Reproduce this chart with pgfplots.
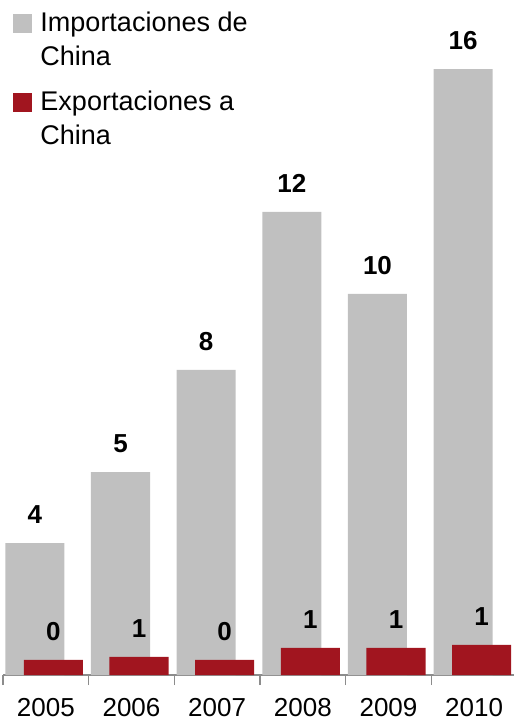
\documentclass[border=0pt]{standalone}
\usepackage{pgfplots}
\pgfplotsset{compat=1.18}
\usepackage{pgfplotstable}
\usepackage{fontspec}
\setmainfont{Liberation Sans}

\definecolor{impgray}{RGB}{192,192,192}
\definecolor{expred}{RGB}{161,21,31}
\definecolor{axgray}{RGB}{140,140,140}

% values in billions, labels as printed on the chart
\pgfplotstableread{
x year imp implbl exp explbl
0 2005 3.50 4  0.40 0
1 2006 5.38 5  0.48 1
2 2007 8.09 8  0.40 0
3 2008 12.28 12 0.72 1
4 2009 10.11 10 0.72 1
5 2010 16.07 16 0.80 1
}\chinadata

\begin{document}
\begin{tikzpicture}
\begin{axis}[
  scale only axis,
  width=514pt, height=675pt,
  xmin=-0.5, xmax=5.5,
  ymin=0, ymax=17.9,
  hide y axis,
  axis x line*=bottom,
  x axis line style={draw=axgray, line width=1.5pt, -},
  xtick={-0.5,0.5,1.5,2.5,3.5,4.5,5.5},
  x tick label as interval,
  xticklabels={2005,2006,2007,2008,2009,2010},
  tick align=outside,
  major tick length=10pt,
  x tick style={draw=axgray, line width=1.5pt},
  xticklabel style={font=\fontsize{26}{31}\selectfont, anchor=base, yshift=-31pt, inner sep=0pt},
  legend style={at={(0.02,0.98)}, anchor=north west, draw=none, fill=none,
    font=\fontsize{27}{34}\selectfont, row sep=20pt, column sep=6pt,
    cells={anchor=west, align=left}, inner sep=0pt, yshift=4pt},
  legend cell align=left,
]

\addplot[ybar, bar width=59pt, bar shift=-11pt, fill=impgray, draw=none,
  nodes near coords, point meta=explicit symbolic,
  nodes near coords style={font=\bfseries\fontsize{26}{31}\selectfont, anchor=south, inner sep=0pt, xshift=-11pt, yshift=19pt},
  legend image code/.code={\fill[impgray] (0pt,6pt) rectangle (19pt,25pt);}]
  table[x=x, y=imp, meta=implbl] {\chinadata};
\addlegendentry{Importaciones de\\China}

\addplot[ybar, bar width=59pt, bar shift=7.5pt, fill=expred, draw=none,
  nodes near coords, point meta=explicit symbolic,
  nodes near coords style={font=\bfseries\fontsize{26}{31}\selectfont, anchor=south, inner sep=0pt, xshift=7.5pt, yshift=19pt},
  legend image code/.code={\fill[expred] (0pt,6pt) rectangle (19pt,25pt);}]
  table[x=x, y=exp, meta=explbl] {\chinadata};
\addlegendentry{Exportaciones a\\China}

\end{axis}
\pgfresetboundingbox
\path[use as bounding box] (-3pt,-46pt) rectangle (511pt,675pt);
\end{tikzpicture}
\end{document}
